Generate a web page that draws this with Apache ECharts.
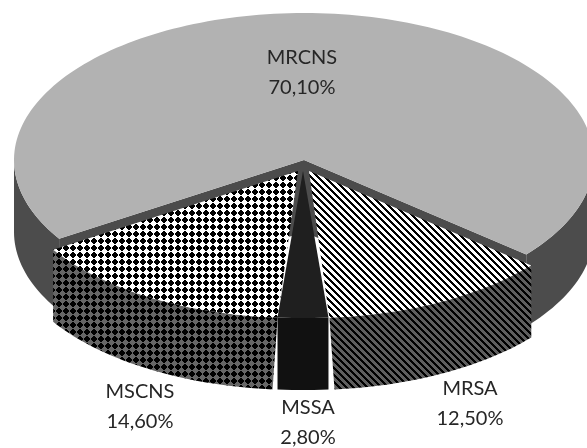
<!DOCTYPE html>
<html>
<head>
<meta charset="utf-8">
<style>html,body{margin:0;padding:0;background:#fff}#chart{width:587px;height:448px}</style>
<script src="https://cdn.jsdelivr.net/npm/echarts@6/dist/echarts.min.js"></script>
</head>
<body>
<div id="chart"></div>
<script>
// Isolate shares, listed clockwise from the large back slice
const categories = ['MRCNS', 'MRSA', 'MSSA', 'MSCNS'];
const shares = [70.1, 12.5, 2.8, 14.6];

// Tilted-pie geometry in pixels
const CX = 304, CY = 160, RX = 290, RY = 147, DEPTH = 72;
const START_DEG = 147.6;
const rad = d => d * Math.PI / 180;

// Texture tiles for the hatched slices
function tile(size, paint) {
  const c = document.createElement('canvas');
  c.width = c.height = size;
  paint(c.getContext('2d'));
  return { image: c, repeat: 'repeat' };
}
const dots = bg => tile(7, g => {
  g.fillStyle = bg; g.fillRect(0, 0, 7, 7);
  g.fillStyle = '#000';
  g.fillRect(2, 0, 2, 6); g.fillRect(1, 1, 4, 4); g.fillRect(0, 2, 6, 2);
});
const stripes = bg => tile(7, g => {
  g.fillStyle = bg; g.fillRect(0, 0, 7, 7);
  g.fillStyle = '#000';
  for (let y = 0; y < 7; y++) for (let x = 0; x < 7; x++) {
    if (((x - y) % 7 + 7) % 7 < 3) g.fillRect(x, y, 1, 1);
  }
});

const looks = {
  MRCNS: { top: '#b2b2b2', side: '#4c4c4c', offset: [0, 0], grow: [0, 0], order: 0, label: [302, 73] },
  MRSA:  { top: stripes('#ffffff'), side: stripes('#5e5e5e'), offset: [5, 11], grow: [0, 1], order: 10, label: [470, 404] },
  MSSA:  { top: '#1f1f1f', side: '#111111', offset: [-1, 11], grow: [0, 0], order: 20, label: [308, 423] },
  MSCNS: { top: dots('#ffffff'), side: dots('#666666'), offset: [-6, 11], grow: [1, 0], order: 10, label: [140, 407] }
};

// Angular range of every slice, derived from its share
const total = shares.reduce((a, b) => a + b, 0);
const ranges = [];
shares.reduce((from, v) => {
  const to = from + v / total * 360;
  ranges.push([from, to]);
  return to;
}, START_DEG);

function arc(a0, a1, ox, oy) {
  const n = Math.max(2, Math.ceil(Math.abs(a1 - a0) / 1.5));
  const pts = [];
  for (let i = 0; i <= n; i++) {
    const t = rad(a0 + (a1 - a0) * i / n);
    pts.push([CX + ox + RX * Math.cos(t), CY + oy + RY * Math.sin(t)]);
  }
  return pts;
}

// Parts of an arc that face the viewer (sine of the angle is positive)
function frontParts(a0, a1) {
  const parts = [];
  for (let k = -1; k < 3; k++) {
    const lo = Math.max(a0, k * 360), hi = Math.min(a1, k * 360 + 180);
    if (hi > lo) parts.push([lo, hi]);
  }
  return parts;
}

function renderSlice(params, api) {
  const i = api.value(0);
  const name = categories[i];
  const look = looks[name];
  const [a0, a1] = ranges[i];
  const [ox, oy] = look.offset;
  const tip = [CX + ox, CY + oy];
  const z = look.order;
  const children = [];

  // Radial walls exposed by the missing wedge of the large slice
  if (name === 'MRCNS') {
    [a0, a1].forEach(a => {
      const e = arc(a, a, ox, oy)[0];
      children.push({
        type: 'polygon', z2: z,
        shape: { points: [tip, e, [e[0], e[1] + DEPTH], [tip[0], tip[1] + DEPTH]] },
        style: { fill: look.side }
      });
    });
  }

  // Outer rim: the upper edge may run slightly past the lower one
  frontParts(a0, a1).forEach(([lo, hi]) => {
    const upper = arc(lo === a0 ? lo - look.grow[0] : lo, hi === a1 ? hi + look.grow[1] : hi, ox, oy);
    const lower = arc(lo, hi, ox, oy + DEPTH).reverse();
    children.push({
      type: 'polygon', z2: z + 1,
      shape: { points: upper.concat(lower) },
      style: { fill: look.side }
    });
  });

  // Top face
  children.push({
    type: 'polygon', z2: z + 2,
    shape: { points: [tip].concat(arc(a0 - look.grow[0], a1 + look.grow[1], ox, oy)) },
    style: { fill: look.top }
  });

  // Two-line label: name and percentage with a decimal comma
  children.push({
    type: 'text', z2: 50,
    x: look.label[0], y: look.label[1],
    style: {
      text: name + '\n' + shares[i].toFixed(2).replace('.', ',') + '%',
      font: '20px Lato',
      lineHeight: 30,
      fill: '#262626',
      align: 'center',
      verticalAlign: 'middle'
    }
  });

  return { type: 'group', children };
}

const chart = echarts.init(document.getElementById('chart'), null, { renderer: 'canvas' });
chart.setOption({
  animation: false,
  backgroundColor: '#ffffff',
  series: [{
    type: 'custom',
    coordinateSystem: 'none',
    silent: true,
    clip: false,
    renderItem: renderSlice,
    data: shares.map((v, i) => [i, v])
  }]
});
</script>
</body>
</html>
